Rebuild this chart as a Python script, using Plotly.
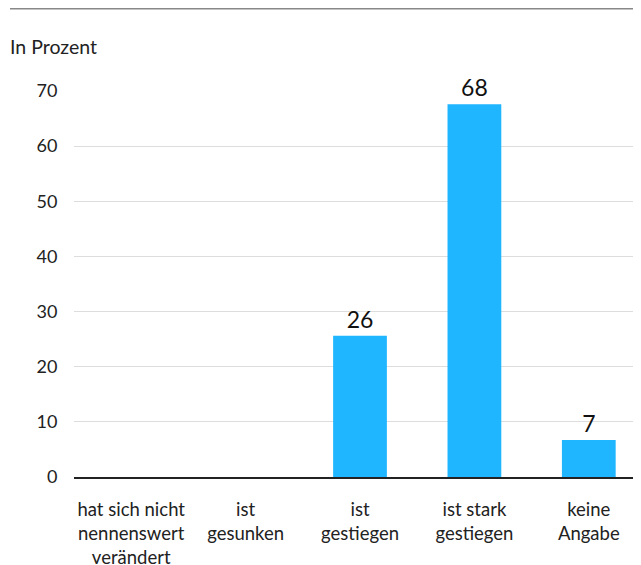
import plotly.graph_objects as go

categories = ["hat sich nicht<br>nennenswert<br>verändert", "ist<br>gesunken", "ist<br>gestiegen",
              "ist stark<br>gestiegen", "keine<br>Angabe"]
values = [0, 0, 25.6, 67.6, 6.7]
labels = ["", "", "26", "68", "7"]
y_ticks = [0, 10, 20, 30, 40, 50, 60, 70]

FONT = "Lato, 'Open Sans', sans-serif"

# page body has an offset; figure coordinates are shifted accordingly
W, H = 641, 565
L, R, T, B = 66, 3, 83, 96
PH = H - T - B
PW = W - L - R

fig = go.Figure(go.Bar(
    x=categories, y=values, text=labels, textposition="outside",
    textfont=dict(size=23, color="#111111", family=FONT),
    marker=dict(color="#1fb6ff", line=dict(width=0)),
    width=0.47, cliponaxis=False, hoverinfo="skip",
))

fig.update_layout(
    width=W, height=H,
    margin=dict(l=L, r=R, t=T, b=B, autoexpand=False),
    paper_bgcolor="white", plot_bgcolor="white",
    font=dict(family=FONT, size=18, color="#222222"),
    showlegend=False,
    xaxis=dict(showgrid=False, showline=True, linecolor="#222222", linewidth=1.5,
               automargin=False,
               ticks="outside", ticklen=15, tickcolor="rgba(0,0,0,0)",
               tickfont=dict(size=18.5, color="#222222"), tickangle=0),
    yaxis=dict(range=[0, 70], tickvals=y_ticks, showgrid=True, gridcolor="#dddddd",
               gridwidth=1, zeroline=False, showline=False, automargin=False,
               ticks="outside", ticklen=12, tickcolor="rgba(0,0,0,0)",
               tickfont=dict(size=18, color="#222222")),
    shapes=[dict(type="line", xref="paper", yref="paper",
                 x0=(2 - L) / PW, x1=1, y0=(H - B - 0.5) / PH, y1=(H - B - 0.5) / PH,
                 line=dict(color="#888888", width=2))],
    annotations=[dict(text="In Prozent", xref="paper", yref="paper",
                      x=(0 - L) / PW, y=(H - B - 38) / PH, xanchor="left", yanchor="middle",
                      showarrow=False, font=dict(size=19.5, color="#222222", family=FONT))],
)

fig.write_html("out.html")
